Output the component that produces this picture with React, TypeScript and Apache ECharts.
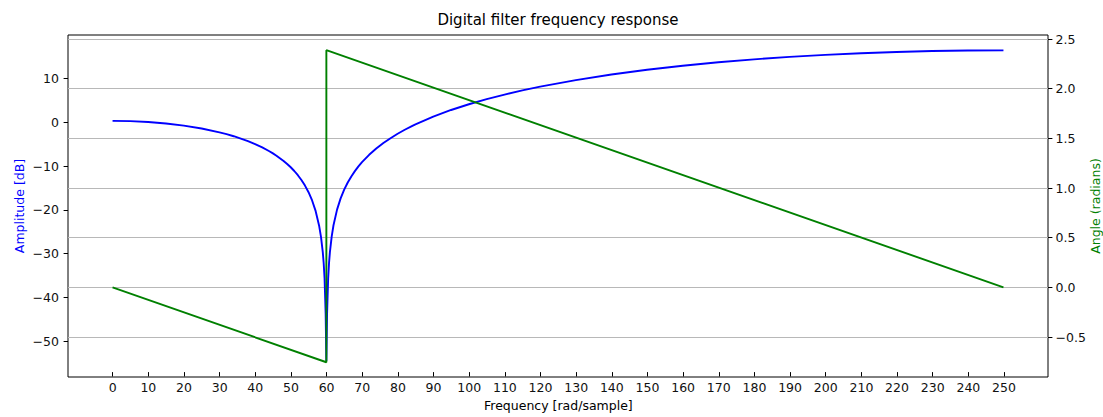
import React, { useEffect, useRef } from 'react';
import * as echarts from 'echarts';

// Frequency samples (x) and amplitude in dB (blue curve)
const freq = [0, 5, 10, 15, 20, 25, 30, 32, 34, 35, 36, 38, 40, 42, 44, 45, 46, 48, 49, 50, 51, 52, 53, 54, 55, 56, 57, 58, 58.5, 59, 59.25, 59.5, 59.8, 60, 60.2, 60.5, 60.75, 61, 61.5, 62, 63, 64, 65, 66, 67, 68, 69, 70, 72, 74, 75, 76, 78, 80, 82, 84, 85, 90, 95, 100, 105, 110, 115, 120, 130, 140, 150, 160, 170, 180, 190, 200, 210, 220, 230, 240, 250];
const amplitudeDb = [0.3, 0.24, 0.04, -0.29, -0.77, -1.43, -2.31, -2.73, -3.2, -3.46, -3.73, -4.32, -4.99, -5.76, -6.63, -7.12, -7.65, -8.85, -9.53, -10.29, -11.14, -12.1, -13.19, -14.47, -15.99, -17.87, -20.31, -23.77, -26.23, -29.73, -32.21, -35.72, -43.7, -54.5, -43.7, -35.66, -32.13, -29.61, -26.06, -23.53, -19.96, -17.4, -15.41, -13.77, -12.38, -11.17, -10.09, -9.13, -7.45, -6.01, -5.37, -4.76, -3.65, -2.64, -1.73, -0.89, -0.5, 1.27, 2.79, 4.1, 5.27, 6.31, 7.25, 8.11, 9.61, 10.88, 11.96, 12.89, 13.68, 14.35, 14.91, 15.38, 15.75, 16.03, 16.24, 16.36, 16.4];

// Angle (green line)
const angleFreq = [0, 60, 60, 250];
const angleRad = [0, -0.754, 2.388, 0];

// Axis tick settings
const xTickRange = { min: 0, max: 250, interval: 10 };
const ampTickRange = { min: -50, max: 10, interval: 10 };
const angleTickRange = { min: -0.5, max: 2.5, interval: 0.5 };

const TITLE = 'Digital filter frequency response';
const X_NAME = 'Frequency [rad/sample]';
const Y_LEFT_NAME = 'Amplitude [dB]';
const Y_RIGHT_NAME = 'Angle (radians)';

export default function App() {
  const ref = useRef<HTMLDivElement>(null);
  useEffect(() => {
    document.body.style.margin = '0';
    const chart = echarts.init(ref.current!, null, { renderer: 'svg' });
    const font = "'DejaVu Sans', sans-serif";
    const tickColor = '#000';
    const labelColor = '#111';
    const fs = 12.5;
    const tickLen = 4.4;
    const minus = (s: string) => s.replace('-', '\u2212');
    const frameX = { type: 'value', min: -12.5, max: 262.5, show: false };
    const hiddenY = {
      type: 'value',
      min: 0,
      max: 1,
      axisLine: { show: false, onZero: false },
      axisTick: { show: false },
      axisLabel: { show: false },
      splitLine: { show: false },
    };

    chart.setOption({
      animation: false,
      textStyle: { fontFamily: font },
      graphic: [
        {
          type: 'text',
          x: 558,
          y: 20,
          style: { text: TITLE, fontFamily: font, fontSize: 15, fill: '#000', align: 'center', verticalAlign: 'middle' },
        },
        {
          type: 'text',
          x: 1095,
          y: 206,
          rotation: Math.PI / 2,
          style: { text: Y_RIGHT_NAME, fontFamily: font, fontSize: fs, fill: '#008000', align: 'center', verticalAlign: 'middle' },
        },
      ],
      grid: [
        { left: 68, top: 35, width: 980, height: 342, show: true, borderColor: '#000', borderWidth: 1, backgroundColor: 'transparent' },
        { left: 68, top: 39, width: 980, height: 298 },
        { left: 68, top: 78.4, width: 980, height: 262.8 },
        { left: 112.7, top: 35, width: 891.3, height: 342 },
      ],
      xAxis: [
        { gridIndex: 0, ...frameX },
        { gridIndex: 1, ...frameX },
        { gridIndex: 2, ...frameX },
        {
          gridIndex: 3,
          type: 'value',
          ...xTickRange,
          axisLine: { show: false, onZero: false },
          axisTick: { show: true, length: tickLen, lineStyle: { color: tickColor, width: 1 } },
          axisLabel: { fontSize: fs, color: labelColor, fontFamily: font, margin: 9 },
          splitLine: { show: false },
          name: X_NAME,
          nameLocation: 'middle',
          nameGap: 25,
          nameTextStyle: { fontSize: fs, color: '#000', fontFamily: font },
        },
      ],
      yAxis: [
        {
          gridIndex: 0,
          position: 'left',
          ...hiddenY,
          name: Y_LEFT_NAME,
          nameLocation: 'middle',
          nameGap: 42.5,
          nameTextStyle: { fontSize: fs, color: '#0000ff', fontFamily: font },
        },
        {
          gridIndex: 1,
          type: 'value',
          position: 'right',
          ...angleTickRange,
          axisLine: { show: false, onZero: false },
          axisTick: { show: true, length: tickLen, lineStyle: { color: tickColor, width: 1 } },
          axisLabel: { fontSize: fs, color: labelColor, fontFamily: font, margin: 7.5, formatter: (v: number) => minus(v.toFixed(1)) },
          splitLine: { show: true, lineStyle: { color: '#b8b8b8', width: 1 } },
        },
        {
          gridIndex: 2,
          type: 'value',
          position: 'left',
          ...ampTickRange,
          axisLine: { show: false, onZero: false },
          axisTick: { show: true, length: tickLen, lineStyle: { color: tickColor, width: 1 } },
          axisLabel: { fontSize: fs, color: labelColor, fontFamily: font, margin: 9, formatter: (v: number) => minus(String(v)) },
          splitLine: { show: false },
        },
        { gridIndex: 3, ...hiddenY, show: false },
      ],
      series: [
        {
          type: 'line',
          xAxisIndex: 2,
          yAxisIndex: 2,
          data: freq.map((f, i) => [f, amplitudeDb[i]]),
          showSymbol: false,
          symbol: 'none',
          clip: false,
          lineStyle: { color: '#0000ff', width: 1.9 },
          itemStyle: { color: '#0000ff' },
        },
        {
          type: 'line',
          xAxisIndex: 1,
          yAxisIndex: 1,
          data: angleFreq.map((f, i) => [f, angleRad[i]]),
          showSymbol: false,
          symbol: 'none',
          clip: false,
          lineStyle: { color: '#008000', width: 1.9 },
          itemStyle: { color: '#008000' },
        },
      ],
    });
    return () => chart.dispose();
  }, []);
  return <div ref={ref} style={{ width: 1103, height: 417 }} />;
}
